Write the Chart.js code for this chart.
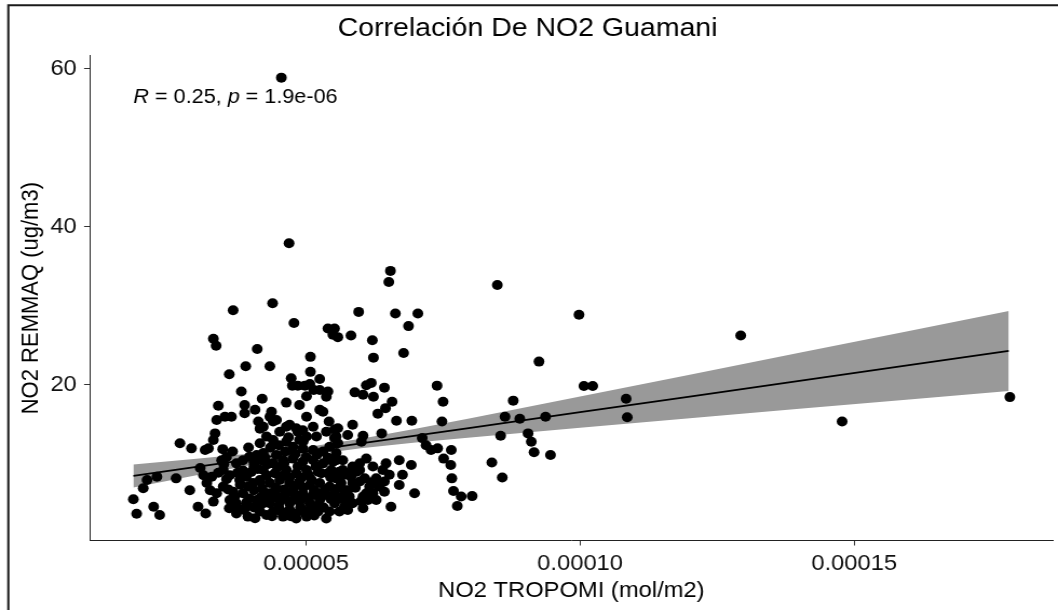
<!DOCTYPE html>
<html>
<head>
<meta charset="utf-8">
<script src="https://cdn.jsdelivr.net/npm/chart.js@4.4.1/dist/chart.umd.min.js"></script>
<style>
html,body{margin:0;padding:0;background:#fff;overflow:hidden;}
#wrap{width:980px;height:610px;transform:scaleX(1.0796);transform-origin:0 0;}
canvas{display:block;}
</style>
</head>
<body>
<div id="wrap"><canvas id="c" width="980" height="610"></canvas></div>
<script>
// ---- data (NO2 TROPOMI in units of 1e-5 mol/m2, NO2 REMMAQ in ug/m3) ----
const no2TropomiE5 = [
 4.55,4.69,6.54,6.51,4.39,3.67,4.78,5.96,6.63,7.04,6.87,5.40,5.52,5.49,5.58,
 5.82,6.21,3.31,3.36,6.23,6.78,4.11,5.08,3.90,4.34,3.60,5.08,4.73,4.75,4.85,
 4.98,5.07,5.25,3.82,4.20,3.40,4.64,4.88,5.01,5.14,5.25,5.40,5.37,5.89,6.04,
 6.10,6.19,6.43,6.23,6.57,6.45,6.31,3.88,3.88,4.07,3.37,3.52,3.64,4.13,4.16,
 4.37,4.34,4.46,4.64,4.70,4.82,4.94,5.01,5.25,5.31,5.42,5.52,5.55,5.85,5.76,
 6.04,6.01,6.38,6.65,6.93,7.39,7.50,7.48,7.12,7.19,7.28,7.40,7.51,7.65,7.66,
 7.64,7.69,7.83,8.03,7.76,9.25,8.78,8.63,8.90,9.37,8.55,9.05,9.11,9.16,9.46,
 8.39,8.58,10.07,10.23,8.49,9.98,12.93,10.84,10.86,14.78,17.84,
 3.34,3.31,2.70,2.91,3.16,3.22,3.48,3.46,3.07,3.13,2.28,2.10,2.03,2.63,2.88,
 1.85,2.22,1.91,2.33,3.03,3.17,3.31,3.37,3.60,3.73,3.87,3.94,4.07,
 3.73,3.85,3.97,4.10,4.22,3.49,3.61,3.79,3.91,4.03,4.16,4.28,3.49,3.67,3.85,
 3.97,4.10,4.22,4.34,3.61,3.73,3.91,4.16,4.28,3.25,3.19,3.28,
 4.40,4.22,4.85,5.01,4.88,5.13,5.19,5.37,5.52,4.52,4.40,4.28,4.16,4.64,4.76,
 4.94,5.13,5.31,5.43,5.55,4.46,4.19,4.40,4.58,4.76,4.94,5.13,5.31,5.49,5.67,
 4.22,4.43,4.64,4.82,5.01,5.22,5.40,5.61,5.79,4.16,4.34,4.52,4.70,4.88,5.07,
 5.25,5.43,5.64,5.82,4.25,4.43,4.61,4.76,4.94,5.13,5.34,5.52,4.34,4.52,4.70,
 4.88,5.07,5.25,5.52,5.70,4.40,4.82,5.01,5.22,5.07,4.82,4.58,4.70,5.10,5.37,
 5.43,5.25,5.28,5.46,5.55,5.67,5.58,5.58,5.55,5.70,5.85,5.98,5.76,5.58,5.70,
 5.85,5.76,5.61,6.10,6.22,5.98,6.07,6.98,6.55,6.92,6.70,6.46,6.40,6.52,6.43,
 6.34,6.43,6.76,6.70,6.22,6.28,6.16,6.10,5.98,5.92,6.04,6.13,6.28,6.04,5.85,
 5.70,5.67,5.79,
 3.55,3.66,3.95,4.05,3.85,4.00,4.12,4.30,4.48,4.55,4.70,4.85,5.05,5.18,4.62,
 4.80,4.50,4.35,4.68,4.95,4.45,4.60,4.78,4.95,5.15,4.20,4.05,3.95,3.80,3.70,
 3.92,4.05,4.18,4.50,4.62,4.80,5.00,5.20,4.98,4.65,4.55,4.90,5.32,5.45,5.35,
 5.10,4.92,4.25,4.05,3.55,3.40,3.50,3.75,4.60,5.00,5.20,5.40,4.45,4.30,4.15,
 3.78,3.58,5.45,5.60,5.90,6.20,6.00,4.38,4.72,5.15
];
const no2Remmaq = [
 58.9,37.9,34.4,33.0,30.3,29.4,27.8,29.2,29.0,29.0,27.4,27.1,27.1,26.3,26.0,
 26.2,25.6,25.8,24.9,23.4,24.0,24.5,23.5,22.3,22.3,21.3,21.6,20.8,19.85,19.85,
 19.85,20.06,20.7,19.1,18.2,17.3,17.7,17.4,18.5,19.3,19.3,19.1,18.45,19.0,18.7,
 19.9,20.2,19.6,18.45,17.8,17.0,16.3,17.4,16.35,16.8,15.5,15.9,15.9,15.3,14.4,
 16.55,15.9,15.5,14.65,14.9,14.45,14.2,15.9,16.8,16.55,15.3,14.3,13.4,14.9,13.6,
 13.5,12.75,13.8,15.4,15.4,19.85,17.8,15.3,13.2,12.3,11.7,11.9,10.6,11.7,8.1,
 9.8,6.5,5.8,5.85,4.6,22.9,17.95,15.9,15.65,15.9,13.5,13.8,12.75,11.4,11.05,
 10.1,8.2,19.8,19.8,32.6,28.85,26.2,18.2,15.85,15.3,18.4,
 13.8,12.95,12.55,11.9,11.7,11.9,11.8,10.4,9.4,8.5,8.3,7.9,6.85,8.1,6.6,
 5.45,4.5,3.6,3.45,4.5,3.65,5.15,6.2,4.3,3.65,4.1,3.25,3.05,
 10.0,10.4,10.85,11.05,11.3,9.16,8.5,7.9,8.3,7.5,7.9,8.5,7.05,6.4,6.2,
 5.55,5.35,4.95,6.2,5.35,4.95,4.5,3.9,3.45,6.6,7.5,8.3,
 15.3,14.65,14.0,13.4,12.95,14.65,13.4,14.0,13.2,14.0,12.95,13.4,12.55,12.75,12.1,
 11.9,11.7,11.5,12.1,11.3,11.05,10.4,10.0,10.4,10.6,10.2,10.4,10.0,10.2,10.4,
 9.16,8.75,9.16,8.75,9.16,8.95,8.75,8.95,8.75,7.7,7.5,7.9,7.5,7.7,7.25,
 7.5,7.05,7.5,8.3,6.2,6.4,6.0,6.4,6.2,6.0,6.0,6.2,4.95,5.15,4.95,
 5.15,4.95,5.35,4.95,4.5,3.9,3.65,3.25,3.9,4.1,3.0,3.25,4.1,4.5,3.0,
 3.9,6.2,8.75,9.16,10.4,9.16,14.45,12.55,8.1,8.55,9.6,9.16,6.6,5.55,5.35,
 4.95,4.1,3.9,6.2,6.2,7.7,8.1,6.2,4.5,9.8,10.4,10.0,9.16,8.55,7.7,
 7.05,6.4,8.55,7.25,9.6,8.1,7.05,10.6,10.0,8.95,5.8,5.35,5.35,4.3,7.5,
 6.6,5.8,5.8,
 10.8,11.5,12.0,9.6,9.1,8.9,9.3,9.9,9.5,8.4,8.2,9.6,8.5,9.6,11.5,
 11.2,12.3,12.0,13.3,12.8,6.9,6.7,7.0,6.9,6.6,6.8,6.6,7.1,7.3,5.8,
 5.1,4.4,5.7,4.5,5.6,5.7,5.6,4.6,3.8,3.5,3.9,4.4,4.4,5.5,6.7,
 7.9,8.2,10.7,10.1,8.0,8.8,9.9,8.8,10.0,10.8,11.1,10.7,5.7,5.3,4.6,
 4.2,6.7,8.2,6.9,6.9,7.6,5.2,3.3,3.3,3.4
];
// linear fit with 95% band, read at a few x positions (x in 1e-5 mol/m2)
const fitXE5 = [1.85, 3, 4, 5, 6, 7, 8, 10, 12, 14, 16, 17.82];
const fitLine = [8.40, 9.54, 10.53, 11.52, 12.52, 13.51, 14.50, 16.49, 18.47, 20.46, 22.44, 24.25];
const fitLower = [6.93, 8.48, 9.80, 10.99, 11.92, 12.65, 13.29, 14.52, 15.72, 16.91, 18.09, 19.18];
const fitUpper = [9.87, 10.59, 11.26, 12.05, 13.11, 14.38, 15.71, 18.46, 21.22, 24.01, 26.79, 29.32];
// ticks
const xTickValues = [0.00005, 0.00010, 0.00015];
const xTickLabels = ["0.00005", "0.00010", "0.00015"];
const yTickValues = [20, 40, 60];
const yTickLabels = ["20", "40", "60"];
// texts
const chartTitle = "Correlación De NO2 Guamani";
const xTitle = "NO2 TROPOMI (mol/m2)";
const yTitle = "NO2 REMMAQ (ug/m3)";
const corrParts = [["R", true], [" = 0.25, ", false], ["p", true], [" = 1.9e-06", false]];
const annotAt = {x: 1.852e-5, y: 55.65};
// axis ranges
const xMin = 1.06e-5, xMax = 1.862e-4;
const yMin = 0.22, yMax = 61.67;

const FONT = "'Liberation Sans', Arial, sans-serif";
const E5 = 1e-5;
const points = no2TropomiE5.map((v, i) => ({x: v * E5, y: no2Remmaq[i]}));
const linePts = fitXE5.map((v, i) => ({x: v * E5, y: fitLine[i]}));
const lowerPts = fitXE5.map((v, i) => ({x: v * E5, y: fitLower[i]}));
const upperPts = fitXE5.map((v, i) => ({x: v * E5, y: fitUpper[i]}));

const decor = {
  id: 'decor',
  beforeDraw(chart) {
    const ctx = chart.ctx;
    ctx.save();
    ctx.fillStyle = '#fff';
    ctx.fillRect(0, 0, chart.width, chart.height);
    ctx.restore();
  },
  afterDraw(chart) {
    const {ctx} = chart;
    const xs = chart.scales.x, ys = chart.scales.y;
    ctx.save();
    ctx.strokeStyle = '#1a1a1a';
    ctx.lineWidth = 2;
    ctx.beginPath();
    ctx.moveTo(7.7, 612);
    ctx.lineTo(7.7, 5.3);
    ctx.lineTo(985, 5.3);
    ctx.stroke();
    let px = xs.getPixelForValue(annotAt.x);
    const py = ys.getPixelForValue(annotAt.y);
    ctx.fillStyle = '#000';
    ctx.textBaseline = 'alphabetic';
    ctx.textAlign = 'left';
    for (const [txt, it] of corrParts) {
      ctx.font = (it ? 'italic ' : '') + '20px ' + FONT;
      ctx.fillText(txt, px, py);
      px += ctx.measureText(txt).width;
    }
    ctx.restore();
  }
};

new Chart(document.getElementById('c'), {
  type: 'scatter',
  data: {
    datasets: [
      {label: 'obs', data: points, pointRadius: 5, pointHoverRadius: 5, pointBorderWidth: 0,
       backgroundColor: '#000', borderColor: '#000'},
      {type: 'line', label: 'fit', data: linePts, borderColor: '#000', borderWidth: 1.8,
       pointRadius: 0, fill: false, tension: 0},
      {type: 'line', label: 'lower', data: lowerPts, borderColor: 'rgba(0,0,0,0)', borderWidth: 0,
       pointRadius: 0, fill: false},
      {type: 'line', label: 'upper', data: upperPts, borderColor: 'rgba(0,0,0,0)', borderWidth: 0,
       pointRadius: 0, fill: '-1', backgroundColor: '#999999'}
    ]
  },
  options: {
    responsive: false,
    animation: false,
    devicePixelRatio: 1,
    events: [],
    layout: {padding: {left: 0, right: 2.7, top: 0, bottom: 0}},
    plugins: {
      legend: {display: false},
      tooltip: {enabled: false},
      title: {display: true, text: chartTitle, color: '#000',
              font: {size: 26.4, weight: 'normal', family: FONT, lineHeight: 1.2},
              padding: {top: 12.7, bottom: 11.4}}
    },
    scales: {
      x: {
        type: 'linear', position: 'bottom', min: xMin, max: xMax,
        afterBuildTicks: s => { s.ticks = xTickValues.map(v => ({value: v})); },
        afterFit: s => { s.height = 69.5; },
        ticks: {callback: (v, i) => xTickLabels[i], color: '#111', font: {size: 22, family: FONT},
                padding: 4.8, maxRotation: 0, minRotation: 0, autoSkip: false},
        grid: {drawOnChartArea: false, drawTicks: true, tickLength: 5, color: '#333', tickColor: '#333'},
        border: {display: true, color: '#222', width: 1},
        title: {display: true, text: xTitle, color: '#000', font: {size: 22, family: FONT},
                padding: {top: 0, bottom: 6}}
      },
      y: {
        type: 'linear', position: 'left', min: yMin, max: yMax,
        afterBuildTicks: s => { s.ticks = yTickValues.map(v => ({value: v})); },
        afterFit: s => { s.width = 83.4; },
        ticks: {callback: (v, i) => yTickLabels[i], color: '#111', font: {size: 22, family: FONT},
                padding: 6.8, autoSkip: false},
        grid: {drawOnChartArea: false, drawTicks: true, tickLength: 5.5, color: '#333', tickColor: '#333'},
        border: {display: true, color: '#222', width: 1},
        title: {display: true, text: yTitle, color: '#000', font: {size: 22, family: FONT},
                padding: {top: 15.7, bottom: 0}}
      }
    }
  },
  plugins: [decor]
});
</script>
</body>
</html>
